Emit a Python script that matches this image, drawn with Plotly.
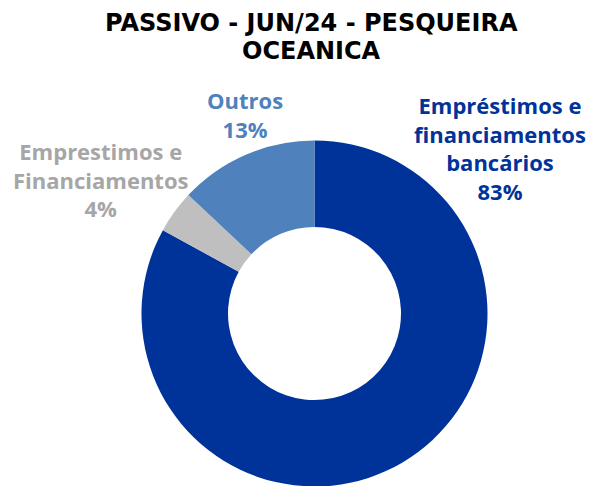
import plotly.graph_objects as go

categories = ["Empréstimos e<br>financiamentos<br>bancários",
              "Emprestimos e<br>Financiamentos",
              "Outros"]
values = [83, 4, 13]
percent_labels = ["83%", "4%", "13%"]
slice_colors = ["#003399", "#BFBFBF", "#4F81BD"]
label_colors = ["#003399", "#A6A6A6", "#4F81BD"]

W, H = 597, 486
OFF = 8  # page body margin
cx, cy, r = 314.5 - OFF, 313.5 - OFF, 173.0

fig = go.Figure(go.Pie(
    labels=[c.replace("<br>", " ") for c in categories],
    values=values,
    hole=0.5,
    sort=False,
    direction="clockwise",
    rotation=0,
    marker=dict(colors=slice_colors, line=dict(width=0)),
    textinfo="none",
    hoverinfo="label+percent",
    showlegend=False,
    domain=dict(x=[(cx - r) / W, (cx + r) / W],
                y=[(H - cy - r) / H, (H - cy + r) / H]),
))

label_pos = [(500, 148), (101, 180), (245, 114)]
for cat, pct, col, (x, y) in zip(categories, percent_labels, label_colors, label_pos):
    fig.add_annotation(
        x=(x - OFF) / W, y=1 - (y - OFF) / H, xref="paper", yref="paper",
        text=f"<b>{cat}<br>{pct}</b>", showarrow=False,
        font=dict(family="Open Sans", size=22, color=col),
        xanchor="center", yanchor="middle", align="center",
    )

title_lines = ["PASSIVO - JUN/24 - PESQUEIRA", "OCEANICA"]
for line, ytop in zip(title_lines, [8, 36]):
    fig.add_annotation(
        x=(311 - OFF) / W, y=1 - (ytop - OFF) / H, xref="paper", yref="paper",
        text=f"<b>{line}</b>", showarrow=False, borderpad=0,
        font=dict(family="DejaVu Sans", size=24, color="#000000"),
        xanchor="center", yanchor="top", align="center",
    )

fig.update_layout(
    width=W, height=H,
    margin=dict(l=0, r=0, t=0, b=0),
    paper_bgcolor="white", plot_bgcolor="white",
)
fig.write_html("out.html")
